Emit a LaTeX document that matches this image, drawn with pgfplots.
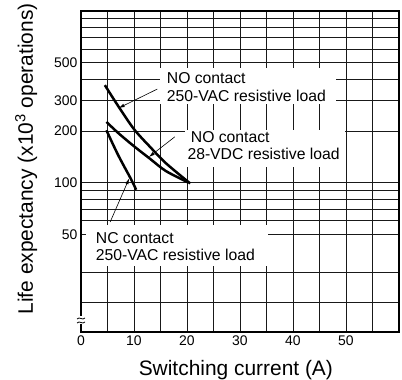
\documentclass[border=0pt]{standalone}
\usepackage{pgfplots}
\pgfplotsset{compat=1.18}
\usepackage{fontspec}
\setmainfont{Liberation Sans}
\usetikzlibrary{arrows.meta}
\newcommand{\annot}{\fontsize{15.8}{18}\selectfont}
\begin{document}
\begin{tikzpicture}
\useasboundingbox (0,0) rectangle (402bp,380bp);
\begin{axis}[
  at={(81bp,48bp)}, anchor=south west,
  scale only axis, width=318bp, height=321bp,
  xmin=0, xmax=60, ymode=log, ymin=13.5, ymax=1000,
  xtick={0,5,...,55}, xticklabels={0,,10,,20,,30,,40,,50,},
  ytick={20,30,50,60,70,80,90,100,200,300,400,500,600,700,800,900},
  yticklabels={,,50,,,,,100,200,300,,500,,,,},
  yminorticks=false, xminorticks=false,
  major tick length=0pt,
  grid=major, major grid style={black!90, line width=0.8pt},
  axis line style={line width=1.3pt},
  ticklabel style={font=\fontsize{14}{16}\selectfont},
  /pgf/number format/assume math mode=true,
  xlabel={Switching current (A)},
  ylabel={Life expectancy (x10\textsuperscript{3} operations)},
  label style={font=\fontsize{21}{24}\selectfont},
  xlabel style={at={(axis description cs:0.487,-0.137)}, anchor=base},
  ylabel style={at={(axis description cs:-0.151,0.539)}, anchor=base},
  clip=false,
]
\addplot[line width=2.5pt, smooth, tension=0.5] coordinates {(4.5,370)(7,280)(10,205)(13,162)(16,130)(20.6,99)};
\addplot[line width=2.5pt, smooth, tension=0.5] coordinates {(4.8,226)(7,195)(10,163)(13,138)(16,117)(20.3,100)};
\addplot[line width=2.5pt, smooth, tension=0.5] coordinates {(4.8,202)(7,145)(9.5,104)(10.4,91)};
\draw[-{Latex[length=6pt,width=3.5pt]}, line width=0.6pt] (axis cs:14.4,351) -- (axis cs:7.1,272);
\draw[-{Latex[length=6pt,width=3.5pt]}, line width=0.6pt] (axis cs:17.7,185) -- (axis cs:12.8,141);
\draw[-{Latex[length=6pt,width=3.5pt]}, line width=0.6pt] (axis cs:5.5,59) -- (axis cs:9.1,106);
\end{axis}
\fill[white] (160bp,276bp) rectangle (336bp,312bp);
\node[anchor=base west, inner sep=0pt, font=\annot] at (166.7bp,296bp) {NO contact};
\node[anchor=base west, inner sep=0pt, font=\annot] at (166.7bp,278.3bp) {250-VAC resistive load};
\fill[white] (185bp,213bp) rectangle (345bp,250bp);
\node[anchor=base west, inner sep=0pt, font=\annot] at (190.7bp,237.3bp) {NO contact};
\node[anchor=base west, inner sep=0pt, font=\annot] at (187.3bp,220bp) {28-VDC resistive load};
\fill[white] (86bp,114bp) rectangle (268bp,155bp);
\node[anchor=base west, inner sep=0pt, font=\annot] at (95.7bp,136.7bp) {NC contact};
\node[anchor=base west, inner sep=0pt, font=\annot] at (95.7bp,119.3bp) {250-VAC resistive load};
\fill[white] (78bp,56bp) rectangle (85bp,64bp);
\draw[line width=0.8pt] (77bp,57bp) .. controls (79.5bp,60bp) and (82.5bp,55bp) .. (85bp,58bp);
\draw[line width=0.8pt] (77bp,61bp) .. controls (79.5bp,64bp) and (82.5bp,59bp) .. (85bp,62bp);
\end{tikzpicture}
\end{document}
